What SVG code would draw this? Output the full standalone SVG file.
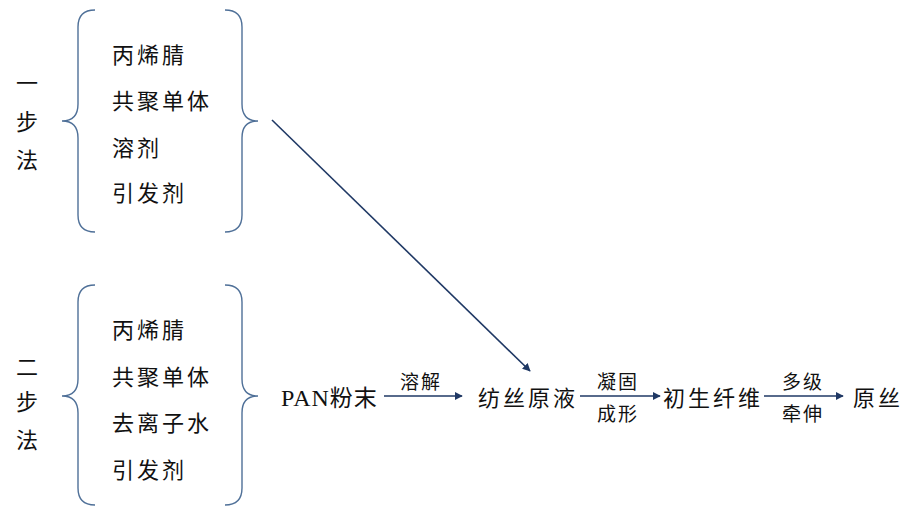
<svg xmlns="http://www.w3.org/2000/svg" width="907" height="508" viewBox="0 0 907 508">
<style>
text{font-family:"Noto Sans CJK SC","Liberation Serif",serif;fill:#111;}
.t{font-size:22px;letter-spacing:3px;}
.s{font-size:19px;letter-spacing:2px;text-anchor:middle;}
.m{font-size:22px;text-anchor:middle;}
.br{fill:none;stroke:#4f7098;stroke-width:1.4;}
.ar{fill:none;stroke:#1f3864;stroke-width:1.6;marker-end:url(#ah);}
</style>
<defs>
<marker id="ah" viewBox="0 0 10 10" refX="9" refY="5" markerWidth="8" markerHeight="8" markerUnits="userSpaceOnUse" orient="auto">
<path d="M0,0 L10,5 L0,10 z" fill="#1f3864"/>
</marker>
</defs>
<g id="one-step">
<text class="m" x="27" y="91">一</text>
<text class="m" x="27" y="130">步</text>
<text class="m" x="27" y="168">法</text>
<path class="br" d="M95,10 Q78,10 78,27 L78,104 Q78,121 62,121 Q78,121 78,138 L78,215 Q78,232 95,232"/>
<path class="br" d="M225,10 Q242,10 242,27 L242,104 Q242,121 258,121 Q242,121 242,138 L242,215 Q242,232 225,232"/>
<text class="t" x="112" y="63">丙烯腈</text>
<text class="t" x="112" y="109">共聚单体</text>
<text class="t" x="112" y="156">溶剂</text>
<text class="t" x="112" y="201">引发剂</text>
</g>
<g id="two-step">
<text class="m" x="27" y="375">二</text>
<text class="m" x="27" y="410">步</text>
<text class="m" x="27" y="448">法</text>
<path class="br" d="M95,285 Q78,285 78,302 L78,379 Q78,396 62,396 Q78,396 78,413 L78,488 Q78,505 95,505"/>
<path class="br" d="M225,285 Q242,285 242,302 L242,379 Q242,396 258,396 Q242,396 242,413 L242,488 Q242,505 225,505"/>
<text class="t" x="112" y="338">丙烯腈</text>
<text class="t" x="112" y="385">共聚单体</text>
<text class="t" x="112" y="431">去离子水</text>
<text class="t" x="112" y="478">引发剂</text>
</g>
<g id="pan"><text x="281" y="406" style="font-size:23px;letter-spacing:1px;"><tspan style="font-family:'Liberation Serif',serif;font-size:24px;">PAN</tspan>粉末</text></g>
<g id="dope"><text class="t" x="478" y="406">纺丝原液</text></g>
<g id="fiber"><text class="t" x="663" y="406">初生纤维</text></g>
<g id="precursor"><text class="t" x="853" y="406">原丝</text></g>
<g id="connectors">
<line class="ar" x1="272" y1="120" x2="530" y2="371"/>
<line class="ar" x1="384" y1="396" x2="462" y2="396"/>
<line class="ar" x1="580" y1="396" x2="660" y2="396"/>
<line class="ar" x1="764" y1="396" x2="843" y2="396"/>
<text class="s" x="421" y="389">溶解</text>
<text class="s" x="618" y="389">凝固</text>
<text class="s" x="618" y="421">成形</text>
<text class="s" x="803" y="389">多级</text>
<text class="s" x="803" y="421">牵伸</text>
</g>
</svg>
